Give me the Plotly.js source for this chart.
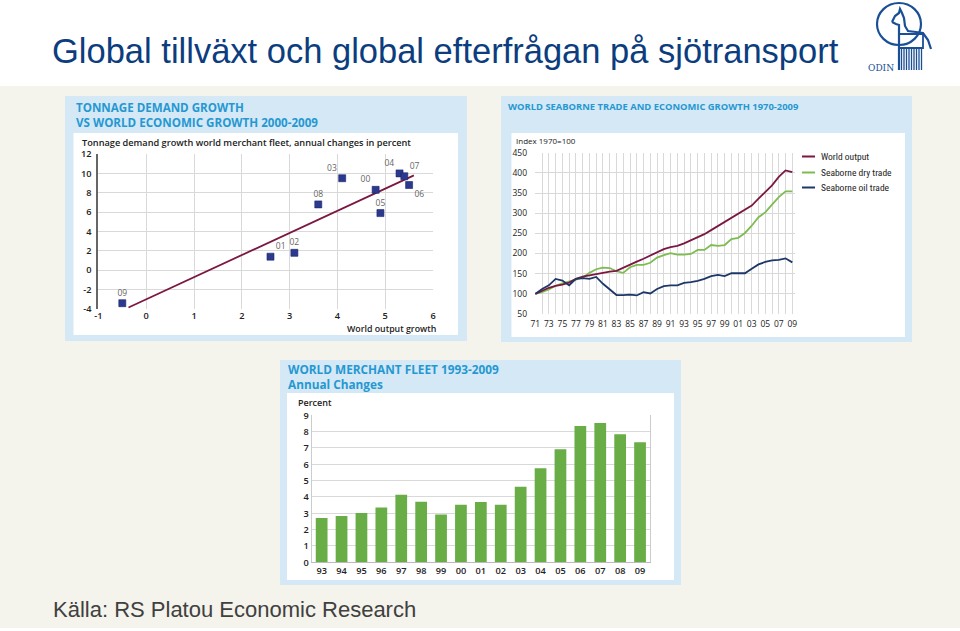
<!DOCTYPE html>
<html><head><meta charset="utf-8">
<script src="https://cdn.plot.ly/plotly-3.0.1.min.js"></script>
<style>html,body{margin:0;padding:0;background:#fff}#chart{width:960px;height:631px}</style>
</head><body><div id="chart"></div>
<script>
// ---------- Chart 1: tonnage demand growth vs world economic growth ----------
const scatterLabels = ['00','01','02','03','04','05','06','07','08','09'];
const worldOutputGrowth = [4.8, 2.6, 3.1, 4.1, 5.3, 4.9, 5.5, 5.4, 3.6, -0.5];
const tonnageDemandGrowth = [8.3, 1.4, 1.8, 9.5, 10.0, 5.9, 8.8, 9.7, 6.8, -3.4];
const trendX = [-0.37, 5.6];
const trendY = [-3.85, 9.8];
const scatterXTicks = [-1, 0, 1, 2, 3, 4, 5, 6];
const scatterXTickText = ['-1', '0', '1', '2', '3', '4', '5', '6'];
const scatterYTicks = [-4, -2, 0, 2, 4, 6, 8, 10, 12];
const scatterYTickText = ['-4', '-2', '0', '2', '4', '6', '8', '10', '12'];

// ---------- Chart 2: world seaborne trade and economic growth ----------
const tradeYears = [1971,1972,1973,1974,1975,1976,1977,1978,1979,1980,1981,1982,1983,1984,1985,1986,1987,1988,1989,1990,1991,1992,1993,1994,1995,1996,1997,1998,1999,2000,2001,2002,2003,2004,2005,2006,2007,2008,2009];
const worldOutput = [100,108,115,120,123,128,137,143,146,150,153,155,157,164,172,180,187,195,204,211,216,219,225,232,240,248,258,268,277,288,298,307,319,336,352,369,390,406,402];
const seaborneDry = [100,104,111,120,126,130,135,140,152,161,165,164,156,152,166,172,172,177,190,196,201,197,197,199,209,209,221,219,221,236,239,251,269,290,302,321,340,354,354];
const seaborneOil = [100,112,121,137,133,121,137,139,137,142,125,112,97,97,98,96,104,101,112,119,121,121,127,129,132,137,144,147,144,151,151,151,162,173,179,183,184,188,178];
const tradeTickText = ['71','','73','','75','','77','','79','','81','','83','','85','','87','','89','','91','','93','','95','','97','','99','','01','','03','','05','','07','','09'];
const tradeYTicks = [50,100,150,200,250,300,350,400,450];
const tradeSeriesNames = ['World output','Seaborne dry trade','Seaborne oil trade'];

// ---------- Chart 3: world merchant fleet annual changes ----------
const fleetYears = ['93','94','95','96','97','98','99','00','01','02','03','04','05','06','07','08','09'];
const fleetGrowth = [2.71,2.84,3.02,3.35,4.14,3.71,2.92,3.53,3.69,3.53,4.63,5.76,6.92,8.35,8.53,7.84,7.35];
const fleetYTicks = [0,1,2,3,4,5,6,7,8,9];

// ---------- helpers (pixel -> paper) ----------
const W = 960, H = 631;
const X = p => p / W;
const Y = p => 1 - p / H;
const SANS = '"Open Sans", "DejaVu Sans", sans-serif';
const ARIAL = '"Liberation Sans", Arial, sans-serif';
const NARROW = '"Liberation Sans Narrow", "Roboto Condensed", "Open Sans", sans-serif';
const TEAL = '#2598d2';
const DARK = '#333333';
const LOGO = '#1a4f96';
const C_OUT = '#7b1741', C_DRY = '#7dbc50', C_OIL = '#1d3768';

function ann(text, x, base, size, o) {
  o = o || {};
  return {
    xref: 'paper', yref: 'paper', x: X(x), y: Y(base - 0.33 * size),
    xanchor: o.xanchor || 'left', yanchor: 'middle', align: 'left', showarrow: false,
    text: text, borderpad: 0,
    font: {family: o.family || SANS, size: size, color: o.color || DARK, weight: o.weight || 400}
  };
}
function rect(x0, y0, x1, y1, fill) {
  return {type: 'rect', xref: 'paper', yref: 'paper', x0: X(x0), x1: X(x1), y0: Y(y1), y1: Y(y0),
          fillcolor: fill, line: {width: 0}, layer: 'below'};
}
function pline(x0, y0, x1, y1, color, w) {
  return {type: 'line', xref: 'paper', yref: 'paper', x0: X(x0), x1: X(x1), y0: Y(y0), y1: Y(y1),
          line: {color: color, width: w}, layer: 'above'};
}
function ppath(pts, color, w, closed) {
  let d = pts.map((p, i) => (i ? 'L' : 'M') + X(p[0]).toFixed(5) + ',' + Y(p[1]).toFixed(5)).join(' ');
  if (closed) d += ' Z';
  return {type: 'path', xref: 'paper', yref: 'paper', path: d, line: {color: color, width: w}, layer: 'above'};
}

// ---------- traces ----------
const labelPos = ['top left','top right','top center','top left','top left','top center','bottom right','top right','top center','top center'];
const traces = [
  {x: trendX, y: trendY, type: 'scatter', mode: 'lines', line: {color: C_OUT, width: 1.8},
   xaxis: 'x', yaxis: 'y', hoverinfo: 'skip', showlegend: false},
  {x: worldOutputGrowth, y: tonnageDemandGrowth, text: scatterLabels, type: 'scatter', mode: 'markers+text',
   textposition: labelPos, textfont: {family: SANS, size: 8.5, color: '#666'},
   marker: {symbol: 'square', size: 7, color: '#2b3a8f', line: {color: '#1b2566', width: 0.6}},
   xaxis: 'x', yaxis: 'y', showlegend: false},
  {x: tradeYears, y: seaborneDry, name: tradeSeriesNames[1], type: 'scatter', mode: 'lines',
   line: {color: C_DRY, width: 1.8}, xaxis: 'x2', yaxis: 'y2', showlegend: false},
  {x: tradeYears, y: worldOutput, name: tradeSeriesNames[0], type: 'scatter', mode: 'lines',
   line: {color: C_OUT, width: 1.8}, xaxis: 'x2', yaxis: 'y2', showlegend: false},
  {x: tradeYears, y: seaborneOil, name: tradeSeriesNames[2], type: 'scatter', mode: 'lines',
   line: {color: C_OIL, width: 1.8}, xaxis: 'x2', yaxis: 'y2', showlegend: false},
  {x: fleetYears, y: fleetGrowth, type: 'bar', marker: {color: '#69ad46'},
   xaxis: 'x3', yaxis: 'y3', showlegend: false}
];

// ---------- shapes ----------
const shapes = [
  rect(0, 86, 960, 628, '#f4f3ec'),
  rect(65, 96, 467, 341, '#d4e8f5'),
  rect(73.5, 133, 458, 335, '#ffffff'),
  rect(501, 96, 912, 342, '#d4e8f5'),
  rect(511.5, 133, 905, 337, '#ffffff'),
  rect(280, 360, 681, 585, '#d4e8f5'),
  rect(287, 393, 674, 580, '#ffffff'),
  // legend swatches chart 2
  pline(802, 156.5, 815, 156.5, C_OUT, 2),
  pline(802, 172.5, 815, 172.5, C_DRY, 2),
  pline(802, 187.5, 815, 187.5, C_OIL, 2),
  // logo
  {type: 'circle', xref: 'paper', yref: 'paper', x0: X(877), x1: X(921), y0: Y(45), y1: Y(3),
   line: {color: LOGO, width: 2.2}, layer: 'above'},
  ppath([[892,22],[895,16],[899,13],[900,9],[902,13],[904,18],[905,26],[908,31],[916,32],[923,33],[928,40],[931,49]], LOGO, 2.2),
  ppath([[892,22],[896,24],[899,25],[899,70]], LOGO, 2.2),
  ppath([[899,34],[923,34],[923,48],[899,48]], LOGO, 1.8),
];
const combX = [901.5, 904, 906.5, 909, 911.5, 914, 916.5, 919, 921.5];
combX.forEach(cx => shapes.push(pline(cx, 48, cx, 70, LOGO, 1.3)));

// ---------- annotations ----------
const annotations = [
  ann('Global tillväxt och global efterfrågan på sjötransport', 51, 62, 34.5, {family: ARIAL, color: '#0c3d7e'}),
  ann('Källa: RS Platou Economic Research', 52, 617, 22, {family: ARIAL, color: '#404040'}),
  ann('ODIN', 867, 71, 9, {family: '"DejaVu Serif", serif', color: LOGO}),
  // chart 1
  ann('TONNAGE DEMAND GROWTH<br>VS WORLD ECONOMIC GROWTH 2000-2009', 75, 118.5, 11.6, {color: TEAL, weight: 700}),
  ann('Tonnage demand growth world merchant fleet, annual changes in percent', 81, 146, 9.2, {color: '#222', weight: 600}),
  ann('World output growth', 437, 332, 8.8, {color: '#222', weight: 600, xanchor: 'right'}),
  // chart 2
  ann('WORLD SEABORNE TRADE AND ECONOMIC GROWTH 1970-2009', 507, 110, 9.4, {color: TEAL, weight: 700}),
  ann('Index 1970=100', 515, 143, 8, {color: '#222', weight: 400}),
  ann(tradeSeriesNames[0], 820, 160, 9.5, {family: NARROW, color: '#222'}),
  ann(tradeSeriesNames[1], 820, 176, 9.5, {family: NARROW, color: '#222'}),
  ann(tradeSeriesNames[2], 820, 191, 9.5, {family: NARROW, color: '#222'}),
  // chart 3
  ann('WORLD MERCHANT FLEET 1993-2009<br>Annual Changes', 287, 380.3, 11.8, {color: TEAL, weight: 700}),
  ann('Percent', 297, 405.5, 9, {color: '#222', weight: 600}),
];

const gridC = '#d9d9d9';
const tickF = {family: SANS, size: 9.2, color: '#222', weight: 600};
const tickF2 = {family: SANS, size: 8.5, color: '#222'};
const layout = {
  width: W, height: H, margin: {l: 0, r: 0, t: 0, b: 0},
  paper_bgcolor: '#ffffff', plot_bgcolor: 'rgba(0,0,0,0)', showlegend: false,
  xaxis: {domain: [X(98.4), X(433)], range: [-1, 6], tickmode: 'array', tickvals: scatterXTicks,
          ticktext: scatterXTickText, showgrid: true, gridcolor: gridC, zeroline: false, showline: false,
          ticks: '', tickfont: tickF, ticklabelstandoff: 0, anchor: 'y', fixedrange: true},
  yaxis: {domain: [Y(309), Y(154)], range: [-4, 12], tickmode: 'array', tickvals: scatterYTicks,
          ticktext: scatterYTickText, showgrid: true, gridcolor: gridC, zeroline: false, showline: true,
          linecolor: '#666', linewidth: 2, ticks: '', tickfont: tickF, ticklabelstandoff: 3,
          anchor: 'x', fixedrange: true},
  xaxis2: {domain: [X(535), X(795)], range: [1970.95, 2009.4], tickmode: 'array', tickvals: tradeYears,
           ticktext: tradeTickText, showgrid: true, gridcolor: gridC, zeroline: false, showline: false,
           ticks: '', tickfont: tickF2, ticklabelstandoff: 3, anchor: 'y2', fixedrange: true},
  yaxis2: {domain: [Y(314), Y(152.7)], range: [50, 450], tickmode: 'array', tickvals: tradeYTicks,
           showgrid: true, gridcolor: gridC, zeroline: false, showline: false, ticks: '',
           tickfont: tickF2, ticklabelstandoff: 7, anchor: 'x2', fixedrange: true},
  xaxis3: {domain: [X(311.7), X(650)], type: 'category', range: [-0.5, 16.5], showgrid: false,
           zeroline: false, showline: true, linecolor: '#bbbbbb', ticks: '', tickfont: tickF,
           anchor: 'y3', fixedrange: true},
  yaxis3: {domain: [Y(562.3), Y(415.3)], range: [0, 9], tickmode: 'array', tickvals: fleetYTicks,
           showgrid: true, gridcolor: gridC, zeroline: false, showline: true, mirror: true,
           linecolor: '#cccccc', ticks: '', tickfont: tickF, anchor: 'x3', fixedrange: true},
  bargap: 0.41,
  shapes: shapes, annotations: annotations
};
Plotly.newPlot('chart', traces, layout, {displayModeBar: false, staticPlot: true});
</script></body></html>
